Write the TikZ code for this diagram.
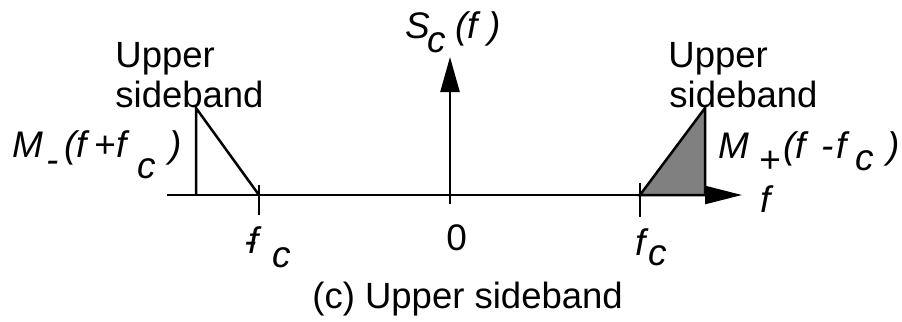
\documentclass[tikz,border=0pt]{standalone}
\usepackage{fontspec}
\setmainfont{Liberation Sans}
\usetikzlibrary{arrows.meta}
\begin{document}
\begin{tikzpicture}[x=0.5pt,y=-0.5pt,
  ln/.style={line width=1.25pt},
  txt/.style={inner sep=0pt,anchor=base west,font=\fontsize{18.25}{21}\selectfont},
  lbl/.style={inner sep=0pt,anchor=base west,font=\fontsize{18.5}{21}\selectfont\itshape},
  num/.style={inner sep=0pt,anchor=base west,font=\fontsize{18.5}{21}\selectfont},
  band/.style={fill={rgb,255:red,128;green,128;blue,128}}]
\useasboundingbox (0,0) rectangle (902,322);
% axis
\coordinate (ax0) at (167,195);
\coordinate (axE) at (742,195);
\draw[ln,-{Triangle[length=18.5pt,width=9pt]}] (ax0) -- (axE);
% carrier impulse
\coordinate (c0) at (450,195);
\coordinate (cT) at (450,57);
\draw[ln,-{Triangle[length=17.5pt,width=9.5pt]}] (c0) -- (cT);
% ticks
\coordinate (tl1) at (259,185); \coordinate (tl2) at (259,215);
\coordinate (tc1) at (450,195); \coordinate (tc2) at (450,204);
\coordinate (tr1) at (640,183); \coordinate (tr2) at (640,217);
\draw[ln] (tl1) -- (tl2);
\draw[ln] (tc1) -- (tc2);
\draw[ln] (tr1) -- (tr2);
% left sideband triangle
\coordinate (la) at (196,195);
\coordinate (lb) at (196,108);
\coordinate (lc) at (259,195);
\draw[ln] (la) -- (lb) -- (lc);
% right sideband triangle
\coordinate (ra) at (640,195);
\coordinate (rb) at (705,108);
\coordinate (rc) at (705,195);
\draw[ln,band] (ra) -- (rb) -- (rc) -- cycle;
% texts
\node[txt] (lu1) at (115,67) {Upper};
\node[txt] (lu2) at (115,107) {sideband};
\node[txt] (ru1) at (668,67) {Upper};
\node[txt] (ru2) at (669,107) {sideband};
% S_c(f)
\node[lbl] (sS) at (405,38) {S};
\node[lbl] (sc) at (427,52) {c};
\node[lbl] (sf) at (455,38) {(f};
\node[lbl] (sr) at (488,38) {)};
% M_-(f+f_c)
\node[lbl] (mM) at (12,157) {M};
\node[lbl] (mm) at (46,172) {-};
\node[lbl] (mf) at (64,157) {(f};
\node[num] (mpl) at (94,157) {+};
\node[lbl] (mf2) at (116,157) {f};
\node[lbl] (mc) at (137,178) {c};
\node[lbl] (mp) at (169,157) {)};
% M_+(f-f_c)
\node[lbl] (pM) at (718,158) {M};
\node[num] (pp) at (759,172) {+};
\node[lbl] (pf) at (783,158) {(f};
\node[lbl] (pm) at (821,158) {-};
\node[lbl] (pf2) at (836,158) {f};
\node[lbl] (pc) at (855,170) {c};
\node[lbl] (pr) at (887,158) {)};
% axis label
\node[lbl] (af) at (760,212) {f};
% tick labels
\node[lbl] (lm) at (244,253) {-};
\node[lbl] (lf) at (248,253) {f};
\node[lbl] (lc2) at (272,267) {c};
\node[num] (z0) at (446,250) {0};
\node[lbl] (rf) at (635,255) {f};
\node[lbl] (rc2) at (648,265) {c};
% caption
\node[txt] (cap) at (312,308) {(c) Upper sideband};
\end{tikzpicture}
\end{document}
